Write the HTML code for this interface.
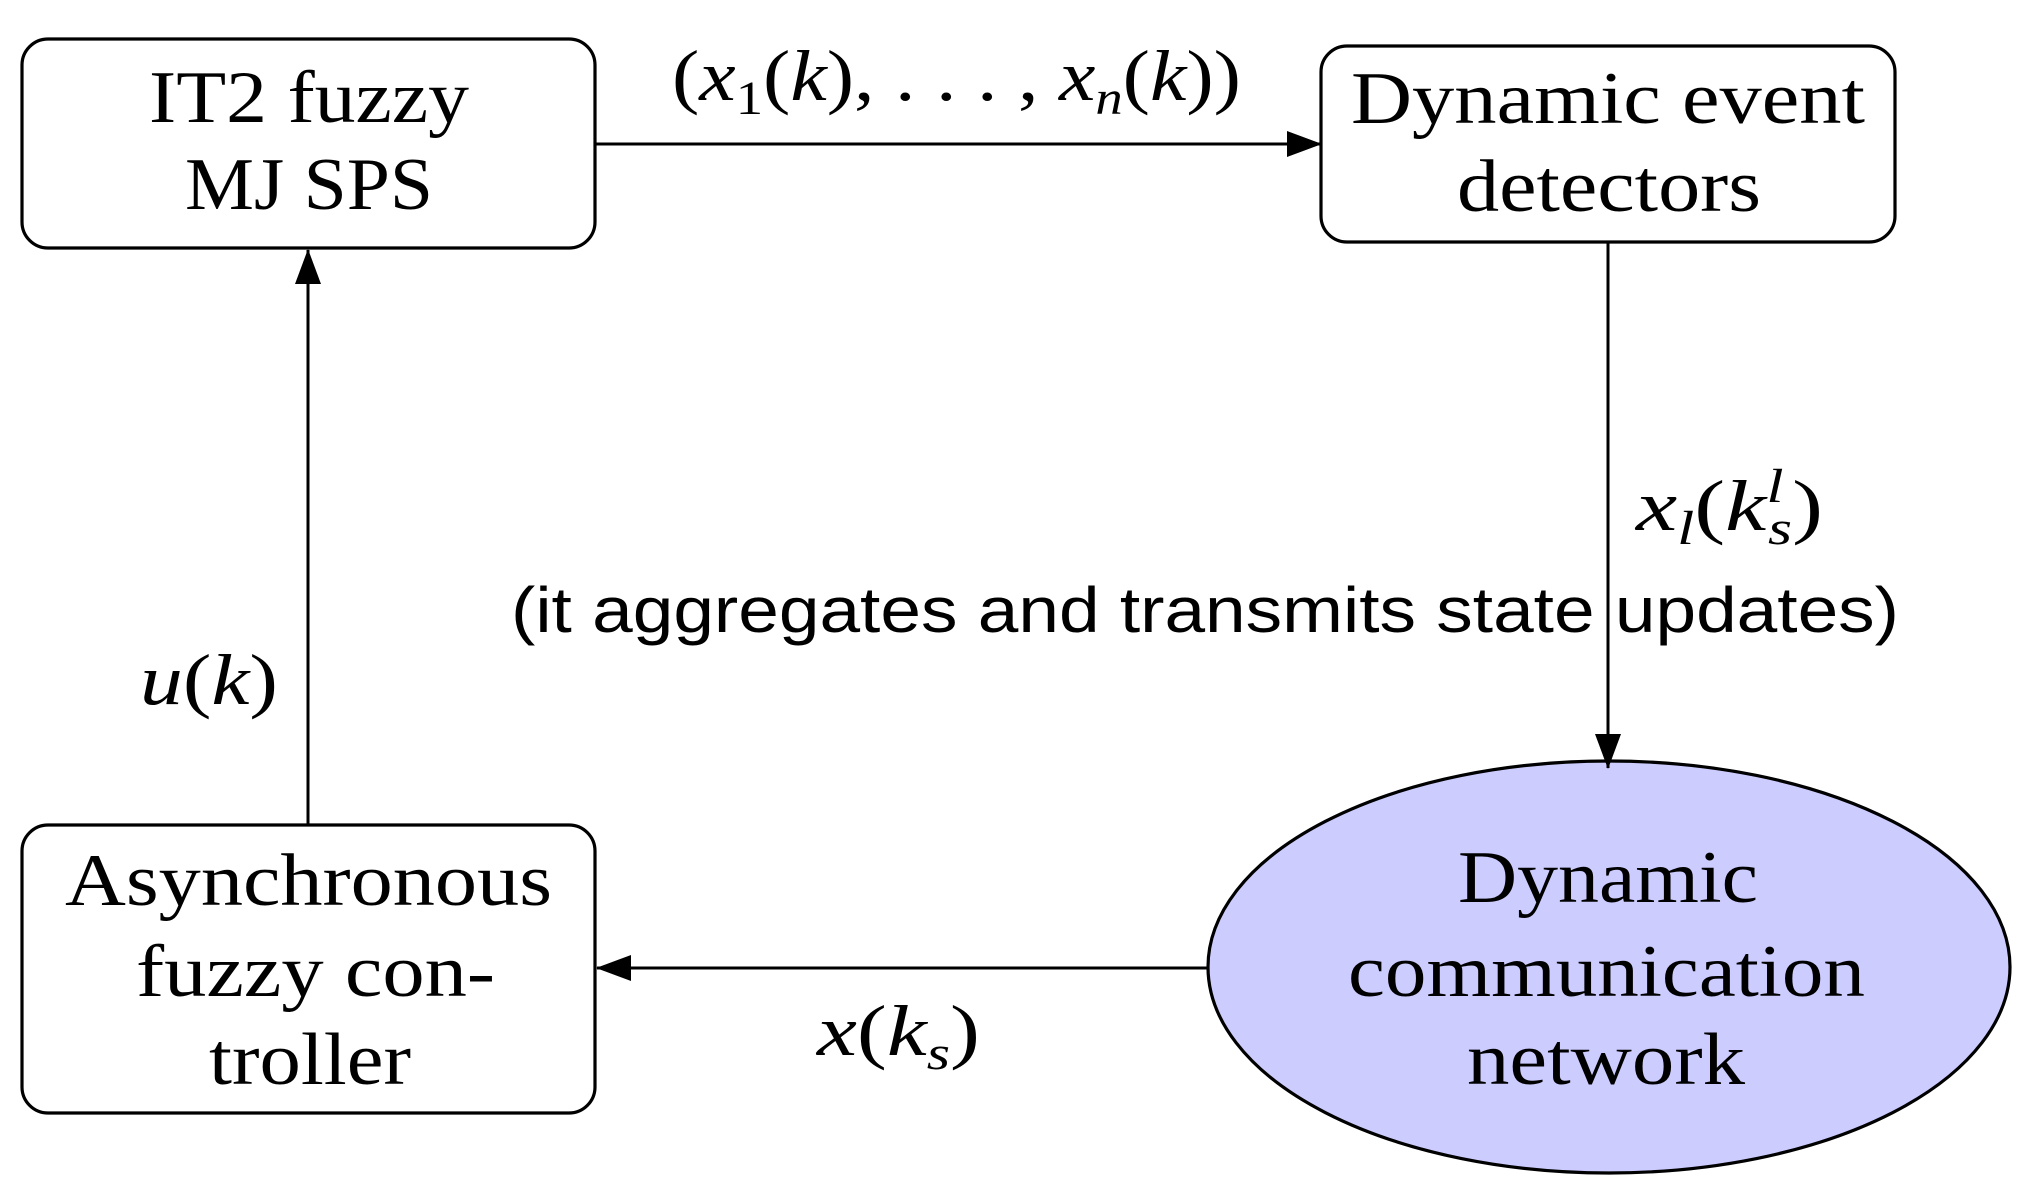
<!DOCTYPE html>
<html><head><style>html,body{margin:0;padding:0;background:#fff}svg{display:block}</style></head>
<body>
<svg width="2027" height="1195" viewBox="0 0 2027 1195" xmlns="http://www.w3.org/2000/svg">
<defs>
<marker id="b" markerWidth="36" markerHeight="30" refX="34" refY="15" orient="auto" markerUnits="userSpaceOnUse"><path d="M0,2 L35,15 L0,28 z" fill="#000"/></marker></defs>
<g fill="none" stroke="#000" stroke-width="3.2">
<rect x="22" y="39" width="573" height="209" rx="26"/>
<rect x="1321" y="46" width="574" height="196" rx="26"/>
<rect x="22" y="825" width="573" height="288" rx="26"/>
<ellipse cx="1609" cy="967" rx="401" ry="206" fill="#ccccff"/>
</g>
<g stroke="#000" stroke-width="3" fill="none">
<line x1="595" y1="144" x2="1321" y2="144" marker-end="url(#b)"/>
<line x1="1608" y1="242" x2="1608" y2="768" marker-end="url(#b)"/>
<line x1="308" y1="825" x2="308" y2="250" marker-end="url(#b)"/>
<line x1="1208" y1="968" x2="597" y2="968" marker-end="url(#b)"/>
</g>
<g font-family="Liberation Serif, serif" font-size="74" fill="#000" lengthAdjust="spacingAndGlyphs">
<text x="149" y="122" textLength="320" lengthAdjust="spacingAndGlyphs">IT2 fuzzy</text>
<text x="185" y="209" textLength="248" lengthAdjust="spacingAndGlyphs">MJ SPS</text>
<text x="1351" y="123" textLength="514" lengthAdjust="spacingAndGlyphs">Dynamic event</text>
<text x="1457" y="211" textLength="304" lengthAdjust="spacingAndGlyphs">detectors</text>
<text x="65" y="905" textLength="487" lengthAdjust="spacingAndGlyphs">Asynchronous</text>
<text x="136" y="996" textLength="359" lengthAdjust="spacingAndGlyphs">fuzzy con-</text>
<text x="209" y="1084" textLength="202" lengthAdjust="spacingAndGlyphs">troller</text>
<text x="1458" y="902" textLength="300" lengthAdjust="spacingAndGlyphs">Dynamic</text>
<text x="1348" y="996" textLength="517" lengthAdjust="spacingAndGlyphs">communication</text>
<text x="1467" y="1084" textLength="278" lengthAdjust="spacingAndGlyphs">network</text>
</g>
<g font-family="Liberation Serif, serif" font-size="72" fill="#000">
<text x="672" y="100" textLength="569" lengthAdjust="spacingAndGlyphs">(<tspan font-style="italic">x</tspan><tspan font-size="48" dy="14">1</tspan><tspan dy="-14">(</tspan><tspan font-style="italic">k</tspan>), . . . , <tspan font-style="italic">x</tspan><tspan font-size="48" font-style="italic" dy="14">n</tspan><tspan dy="-14">(</tspan><tspan font-style="italic">k</tspan>))</text>
<text x="1636" y="530" textLength="187" lengthAdjust="spacingAndGlyphs"><tspan font-style="italic">x</tspan><tspan font-size="48" font-style="italic" dy="14">l</tspan><tspan dy="-14">(</tspan><tspan font-style="italic">k</tspan><tspan font-size="48" font-style="italic" dy="-28">l</tspan><tspan font-size="48" font-style="italic" dx="-12" dy="42">s</tspan><tspan dy="-14">)</tspan></text>
<text x="140" y="704" textLength="138" lengthAdjust="spacingAndGlyphs"><tspan font-style="italic">u</tspan>(<tspan font-style="italic">k</tspan>)</text>
<text x="817" y="1055" textLength="163" lengthAdjust="spacingAndGlyphs"><tspan font-style="italic">x</tspan>(<tspan font-style="italic">k</tspan><tspan font-size="48" font-style="italic" dy="14">s</tspan><tspan dy="-14">)</tspan></text>
</g>
<text x="511" y="632" font-family="Liberation Sans, sans-serif" font-size="64" textLength="1388" lengthAdjust="spacingAndGlyphs" fill="#000">(it aggregates and transmits state updates)</text>
</svg>
</body></html>
